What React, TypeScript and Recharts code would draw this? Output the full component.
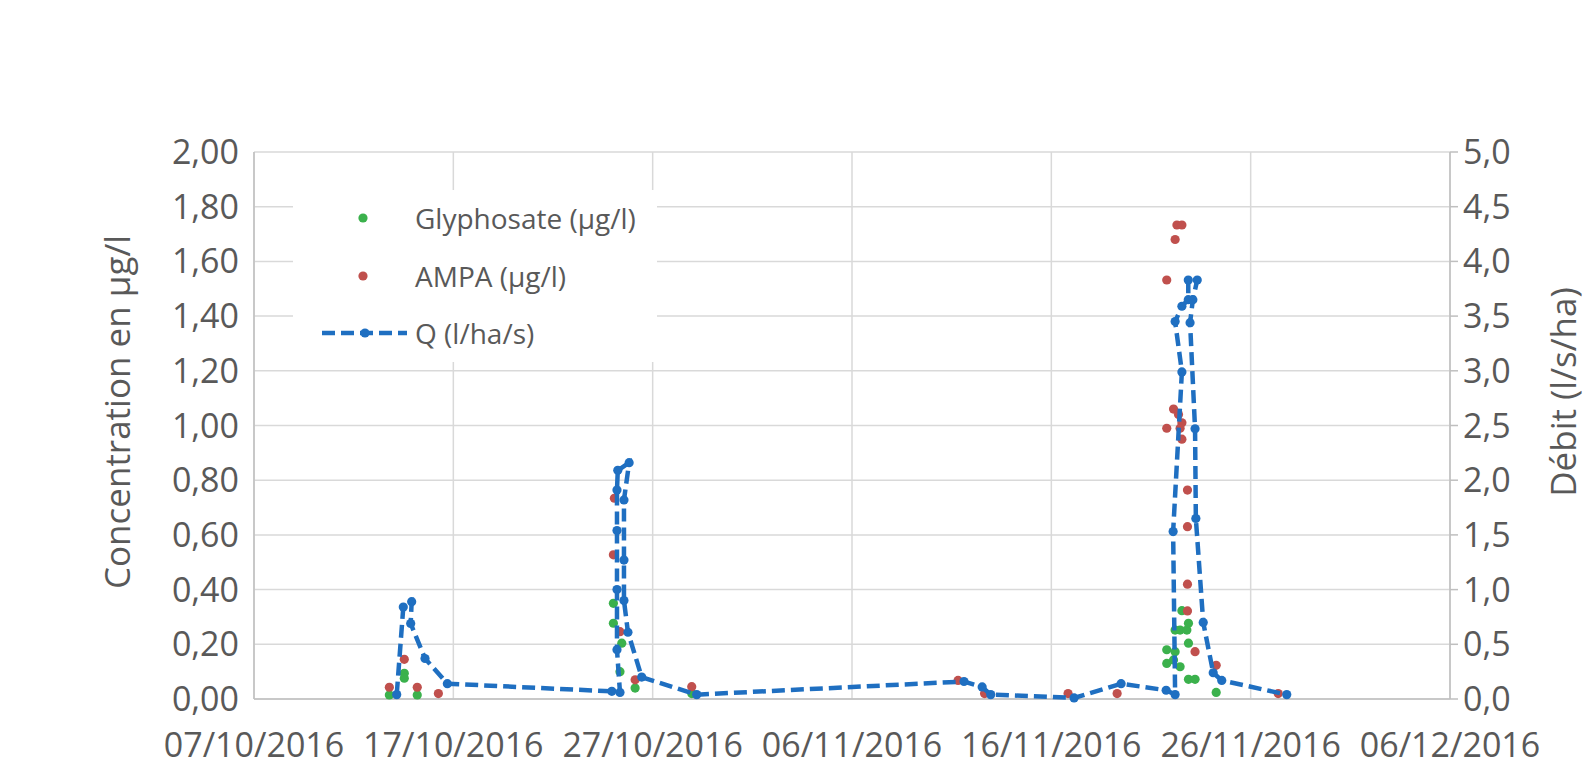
import { ComposedChart, Scatter, XAxis, YAxis, CartesianGrid, Legend } from "recharts";

// day offsets counted from 07/10/2016
const START = Date.UTC(2016, 9, 7);
const xTicks = [0, 10, 20, 30, 40, 50, 60];
const concTicks = [0, 0.2, 0.4, 0.6, 0.8, 1.0, 1.2, 1.4, 1.6, 1.8, 2.0];
const flowTicks = [0, 0.5, 1.0, 1.5, 2.0, 2.5, 3.0, 3.5, 4.0, 4.5, 5.0];

const glyDays = [
  6.79, 7.54, 7.54, 8.19, 18.03, 18.03, 18.45, 18.36, 19.12, 21.96, 45.79, 45.79,
  46.13, 46.21, 46.21, 46.46, 46.46, 46.55, 46.8, 46.88, 46.88, 46.88, 47.21, 48.27,
];
const glyValues = [
  0.015, 0.094, 0.076, 0.015, 0.35, 0.277, 0.204, 0.1, 0.04, 0.02, 0.18, 0.13,
  0.143, 0.252, 0.173, 0.252, 0.118, 0.323, 0.252, 0.277, 0.204, 0.072, 0.072, 0.024,
];

const ampaDays = [
  6.79, 7.54, 8.19, 9.25, 18.08, 18.03, 18.36, 19.12, 21.96, 35.32, 36.65, 40.84,
  43.3, 45.79, 45.79, 46.13, 46.21, 46.3, 46.55, 46.55, 46.46, 46.55, 46.38, 46.83,
  46.83, 46.83, 46.83, 47.21, 48.27, 51.38,
];
const ampaValues = [
  0.043, 0.145, 0.043, 0.02, 0.734, 0.527, 0.246, 0.07, 0.045, 0.068, 0.02, 0.02,
  0.02, 1.532, 0.99, 1.06, 1.68, 1.733, 1.733, 1.01, 0.99, 0.95, 1.04, 0.764,
  0.63, 0.42, 0.322, 0.173, 0.123, 0.02,
];

const qDays = [
  7.16, 7.49, 7.91, 7.86, 8.58, 9.7, 17.95, 18.36, 18.21, 18.21, 18.21, 18.21,
  18.25, 18.82, 18.56, 18.56, 18.56, 18.76, 19.45, 22.21, 35.62, 36.53, 36.96, 41.14,
  43.5, 45.76, 46.21, 46.11, 46.55, 46.21, 46.55, 46.87, 46.87, 47.32, 47.1, 46.96,
  47.21, 47.25, 47.62, 48.12, 48.55, 51.81,
];
const qValues = [
  0.04, 0.84, 0.89, 0.69, 0.37, 0.14, 0.07, 0.06, 0.45, 1.0, 1.54, 1.91,
  2.09, 2.16, 1.82, 1.27, 0.9, 0.61, 0.2, 0.04, 0.16, 0.11, 0.04, 0.01,
  0.14, 0.08, 0.04, 1.53, 2.99, 3.45, 3.59, 3.65, 3.83, 3.83, 3.65, 3.44,
  2.47, 1.65, 0.7, 0.24, 0.17, 0.04,
];

const toPoints = (days: number[], values: number[]) =>
  days.map((d, i) => ({ d, v: values[i] }));

const glyData = toPoints(glyDays, glyValues);
const ampaData = toPoints(ampaDays, ampaValues);
const qData = toPoints(qDays, qValues);

const FONT = '"Open Sans", sans-serif';
const GREY = "#595959";
const GRID = "#d9d9d9";
const AXIS = "#bfbfbf";
const GREEN = "#3BB14C";
const RED = "#C0504D";
const BLUE = "#1F6FC1";

const pad = (n: number) => String(n).padStart(2, "0");
const fmtDate = (d: number) => {
  const dt = new Date(START + d * 86400000);
  return `${pad(dt.getUTCDate())}/${pad(dt.getUTCMonth() + 1)}/${dt.getUTCFullYear()}`;
};
const fmtConc = (v: number) => v.toFixed(2).replace(".", ",");
const fmtFlow = (v: number) => v.toFixed(1).replace(".", ",");

const dot = (color: string) => (props: any) =>
  <circle cx={props.cx} cy={props.cy} r={4.6} fill={color} />;

const AxisTitle = ({ x, y, text }: { x: number; y: number; text: string }) => (
  <text
    x={x}
    y={y}
    transform={`rotate(-90, ${x}, ${y})`}
    textAnchor="middle"
    fill={GREY}
    fontSize={35}
    fontFamily={FONT}
  >
    {text}
  </text>
);

const LegendBox = () => (
  <svg width={364} height={172} style={{ background: "#fff", display: "block" }}>
    <circle cx={70} cy={28} r={4.6} fill={GREEN} />
    <text x={122} y={28} dominantBaseline="central" fill={GREY} fontSize={28} fontFamily={FONT}>
      Glyphosate (µg/l)
    </text>
    <circle cx={70} cy={86} r={4.6} fill={RED} />
    <text x={122} y={86} dominantBaseline="central" fill={GREY} fontSize={28} fontFamily={FONT}>
      AMPA (µg/l)
    </text>
    <line x1={29} y1={143} x2={114} y2={143} stroke={BLUE} strokeWidth={4.5} strokeDasharray="13 6" />
    <circle cx={72} cy={143} r={4.6} fill={BLUE} />
    <text x={122} y={143} dominantBaseline="central" fill={GREY} fontSize={28} fontFamily={FONT}>
      Q (l/ha/s)
    </text>
  </svg>
);

const tickStyle = { fontSize: 34, fill: GREY, fontFamily: FONT };

export default function App() {
  return (
    <div style={{ position: "relative", width: 1588, height: 777, background: "#fff", overflow: "hidden" }}>
      <style>{"body{margin:0}"}</style>
      <ComposedChart
        width={1588}
        height={777}
        margin={{ top: 152, right: 0, bottom: 0, left: 0 }}
      >
        <CartesianGrid stroke={GRID} strokeWidth={1.5} />
        <XAxis
          type="number"
          dataKey="d"
          domain={[0, 60]}
          ticks={xTicks}
          interval={0}
          tickFormatter={fmtDate}
          height={78}
          tick={tickStyle}
          tickLine={false}
          tickSize={0}
          tickMargin={34}
          axisLine={{ stroke: AXIS, strokeWidth: 1.5 }}
        />
        <YAxis
          dataKey="v"
          domain={[0, 2]}
          ticks={concTicks}
          interval={0}
          tickFormatter={fmtConc}
          width={254}
          tick={tickStyle}
          tickLine={false}
          tickSize={0}
          tickMargin={15}
          axisLine={{ stroke: AXIS, strokeWidth: 1.5 }}
        />
        <YAxis
          yAxisId="right"
          orientation="right"
          dataKey="v"
          domain={[0, 5]}
          ticks={flowTicks}
          interval={0}
          tickFormatter={fmtFlow}
          width={138}
          tick={tickStyle}
          tickLine={{ stroke: AXIS, strokeWidth: 1.5 }}
          tickSize={8}
          tickMargin={5}
          axisLine={{ stroke: AXIS, strokeWidth: 1.5 }}
        />
        <Legend
          layout="vertical"
          align="center"
          verticalAlign="middle"
          wrapperStyle={{ left: 293, top: 190, width: 364, height: 172 }}
          content={() => <LegendBox />}
        />
        <Scatter
          name="Glyphosate (µg/l)"
          data={glyData}
          dataKey="v"
          fill={GREEN}
          shape={dot(GREEN)}
          isAnimationActive={false}
        />
        <Scatter
          name="AMPA (µg/l)"
          data={ampaData}
          dataKey="v"
          fill={RED}
          shape={dot(RED)}
          isAnimationActive={false}
        />
        <Scatter
          name="Q (l/ha/s)"
          yAxisId="right"
          data={qData}
          dataKey="v"
          fill={BLUE}
          line={{ stroke: BLUE, strokeWidth: 4.5, strokeDasharray: "13 6" }}
          lineType="joint"
          shape={dot(BLUE)}
          isAnimationActive={false}
        />
      </ComposedChart>
      <svg
        width={1588}
        height={777}
        style={{ position: "absolute", left: 0, top: 0, pointerEvents: "none" }}
      >
        <AxisTitle x={130} y={412} text="Concentration en µg/l" />
        <AxisTitle x={1576} y={392} text="Débit (l/s/ha)" />
      </svg>
    </div>
  );
}
